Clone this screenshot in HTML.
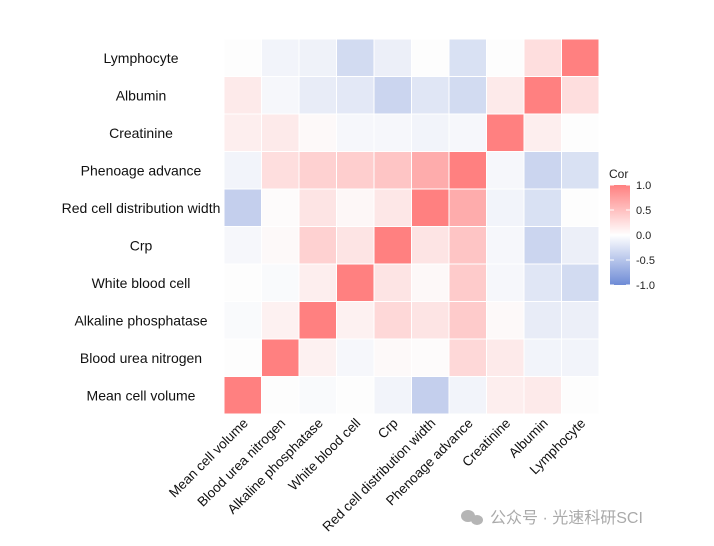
<!DOCTYPE html>
<html><head><meta charset="utf-8"><style>
html,body{margin:0;padding:0;background:#fff;}
svg{display:block;font-family:"Liberation Sans","Noto Sans CJK SC",sans-serif;}
</style></head><body>
<svg id="c" width="714" height="546" viewBox="0 0 714 546">
<defs><linearGradient id="g" x1="0" y1="1" x2="0" y2="0">
<stop offset="0" stop-color="#6E8BD6"/><stop offset="0.5" stop-color="#ffffff"/><stop offset="1" stop-color="#FF8080"/></linearGradient></defs>
<rect x="224" y="39" width="375" height="375" fill="#fcfcfc"/>
<g id="cells"></g>
<g id="ylab"></g>
<g id="xlab"></g>
<g>
<text x="609" y="178" font-size="12" fill="#222">Cor</text>
<rect x="610" y="185" width="20" height="100" fill="url(#g)"/>
<g id="leg"></g>
</g>
<g>
<ellipse cx="468" cy="516" rx="7" ry="6" fill="#b5b5b5"/><ellipse cx="477" cy="520" rx="6" ry="5" fill="#b5b5b5"/>
<text x="490" y="523" font-size="16" fill="#aaa">公众号 · 光速科研SCI</text>
</g>
</svg>
<script>
const vars=["Mean cell volume","Blood urea nitrogen","Alkaline phosphatase","White blood cell","Crp","Red cell distribution width","Phenoage advance","Creatinine","Albumin","Lymphocyte"];
const rowMCV=[1,0,-0.03,0,-0.08,-0.4,-0.08,0.12,0.15,0];
const rowBUN=[0,1,0.1,-0.05,0.03,0.02,0.3,0.15,-0.08,-0.08];
const rowALP=[-0.03,0.1,1,0.1,0.3,0.2,0.4,0.03,-0.15,-0.12];
const rowWBC=[0,-0.03,0.12,1,0.2,0.04,0.4,-0.05,-0.2,-0.3];
const rowCrp=[-0.05,0.03,0.35,0.2,1,0.2,0.45,-0.05,-0.35,-0.12];
const rowRDW=[-0.4,0.02,0.2,0.05,0.18,1,0.65,-0.08,-0.25,0];
const rowPheno=[-0.08,0.25,0.35,0.38,0.45,0.65,1,-0.05,-0.35,-0.25];
const rowCreat=[0.12,0.15,0.03,-0.05,-0.05,-0.08,-0.05,1,0.12,0];
const rowAlb=[0.15,-0.05,-0.15,-0.18,-0.35,-0.2,-0.3,0.15,1,0.25];
const rowLym=[0,-0.08,-0.1,-0.3,-0.12,0,-0.25,0,0.25,1];
const legendTicks=[1.0,0.5,0.0,-0.5,-1.0];
const rows=[rowMCV,rowBUN,rowALP,rowWBC,rowCrp,rowRDW,rowPheno,rowCreat,rowAlb,rowLym];
const NS="http://www.w3.org/2000/svg";
const X0=224,Y1=414,CW=37.5;
const xs=i=>X0+i*CW, ys=j=>Y1-(j+1)*CW;
function col(v){const t=Math.min(1,Math.abs(v));const e=v>=0?[255,128,128]:[110,139,214];const b=253;
return `rgb(${Math.round(b+(e[0]-b)*t)},${Math.round(b+(e[1]-b)*t)},${Math.round(b+(e[2]-b)*t)})`;}
const cg=document.getElementById('cells');
rows.forEach((r,j)=>r.forEach((v,i)=>{const el=document.createElementNS(NS,'rect');
el.setAttribute('x',xs(i));el.setAttribute('y',ys(j));el.setAttribute('width',CW);el.setAttribute('height',CW);
el.setAttribute('fill',col(v));el.setAttribute('stroke','#fff');el.setAttribute('stroke-width','1');


cg.appendChild(el);}));
const yl=document.getElementById('ylab'),xl=document.getElementById('xlab');
vars.forEach((n,k)=>{let t=document.createElementNS(NS,'text');
t.setAttribute('x',141);t.setAttribute('y',ys(k)+CW/2+5);t.setAttribute('text-anchor','middle');t.setAttribute('font-size','14');t.setAttribute('fill','#111');t.textContent=n;


yl.appendChild(t);
t=document.createElementNS(NS,'text');const cx=xs(k)+CW/2+6,cy=424;
t.setAttribute('x',cx);t.setAttribute('y',cy);t.setAttribute('text-anchor','end');t.setAttribute('font-size','13.5');t.setAttribute('fill','#111');
t.setAttribute('transform',`rotate(-45 ${cx} ${cy})`);t.textContent=n;


xl.appendChild(t);});
const lg=document.getElementById('leg');
legendTicks.forEach(v=>{const y=185+(1-v)/2*100;
const l=document.createElementNS(NS,'line');l.setAttribute('x1',610);l.setAttribute('x2',614);l.setAttribute('y1',y);l.setAttribute('y2',y);l.setAttribute('stroke','#fff');lg.appendChild(l);
const l2=document.createElementNS(NS,'line');l2.setAttribute('x1',626);l2.setAttribute('x2',630);l2.setAttribute('y1',y);l2.setAttribute('y2',y);l2.setAttribute('stroke','#fff');lg.appendChild(l2);
const t=document.createElementNS(NS,'text');t.setAttribute('x',636);t.setAttribute('y',y+4);t.setAttribute('font-size','11');t.setAttribute('fill','#222');t.textContent=v.toFixed(1);


lg.appendChild(t);});
</script>
</body></html>
